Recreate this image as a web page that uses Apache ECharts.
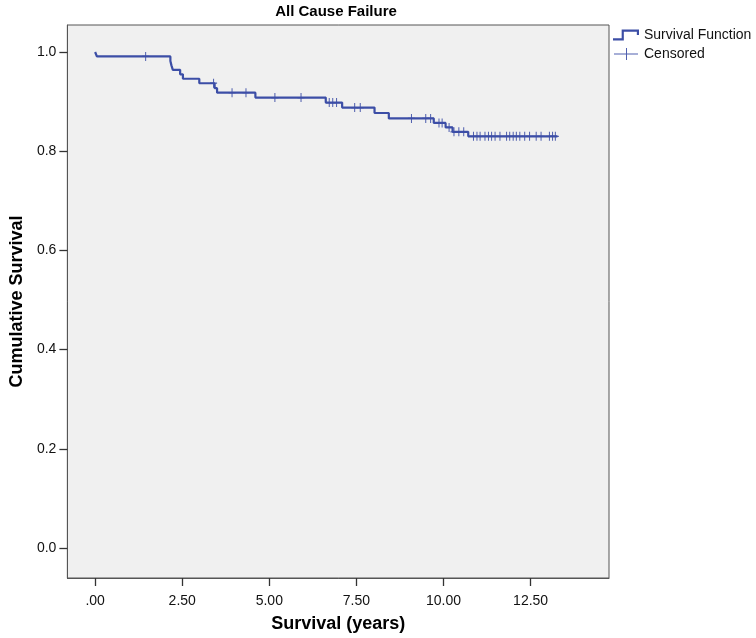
<!DOCTYPE html>
<html>
<head>
<meta charset="utf-8">
<script src="https://cdn.jsdelivr.net/npm/echarts@6/dist/echarts.min.js"></script>
<style>
html,body{margin:0;padding:0;background:#fff;}
#chart{width:756px;height:638px;}
</style>
</head>
<body>
<div id="chart"></div>
<script>
// Kaplan-Meier step points: time (years) and cumulative survival after that time
const eventTimes = [0, 0.05, 2.16, 2.19, 2.23, 2.44, 2.52, 2.99, 3.43, 3.50, 4.60, 6.62, 7.09, 8.02, 8.43, 9.72, 10.06, 10.26, 10.71, 13.27];
const survival   = [1.000, 0.991, 0.982, 0.973, 0.964, 0.955, 0.946, 0.937, 0.927, 0.918, 0.908, 0.898, 0.888, 0.877, 0.866, 0.857, 0.848, 0.839, 0.830, 0.830];

// Censored observations: time and survival level at that time
const censorTimes = [1.45, 3.40, 3.93, 4.33, 5.16, 5.91, 6.72, 6.82, 6.93, 7.45, 7.61,
  9.08, 9.49, 9.63, 9.87, 9.96, 10.16, 10.30, 10.44, 10.58,
  10.86, 10.96, 11.05, 11.19, 11.29, 11.38, 11.48, 11.62, 11.81, 11.90, 12.00, 12.09, 12.19, 12.33, 12.47, 12.66, 12.80, 13.04, 13.13, 13.21];
const censorSurv = [0.991, 0.937, 0.918, 0.918, 0.908, 0.908, 0.898, 0.898, 0.898, 0.888, 0.888,
  0.866, 0.866, 0.866, 0.857, 0.857, 0.848, 0.839, 0.839, 0.839,
  0.830, 0.830, 0.830, 0.830, 0.830, 0.830, 0.830, 0.830, 0.830, 0.830, 0.830, 0.830, 0.830, 0.830, 0.830, 0.830, 0.830, 0.830, 0.830, 0.830];

const xTicks = [0, 2.5, 5, 7.5, 10, 12.5];
const yTicks = [0, 0.2, 0.4, 0.6, 0.8, 1.0];
const xTickLabels = ['.00', '2.50', '5.00', '7.50', '10.00', '12.50'];
const yTickLabels = ['0.0', '0.2', '0.4', '0.6', '0.8', '1.0'];

const FONT = '"Liberation Sans", Arial, sans-serif';
const BLUE = '#3c4ea6';

const chart = echarts.init(document.getElementById('chart'), null, {renderer: 'canvas'});
const stepData = eventTimes.map((t, i) => [t, survival[i]]);
const censData = censorTimes.map((t, i) => [t, censorSurv[i]]);

chart.setOption({
  animation: false,
  backgroundColor: '#ffffff',
  textStyle: {fontFamily: FONT},
  title: {
    text: 'All Cause Failure',
    left: 336, top: 4, padding: 0,
    textAlign: 'center',
    textStyle: {fontFamily: FONT, fontSize: 15, fontWeight: 'bold', color: '#000'}
  },
  legend: {
    orient: 'vertical',
    left: 613, top: 28,
    itemWidth: 26, itemHeight: 12, itemGap: 5,
    padding: 0,
    textStyle: {fontFamily: FONT, fontSize: 14, color: '#111'},
    data: [
      {name: 'Survival Function', icon: 'path://M0,9 H8 V1 H24 V6 H22 V3 H10 V11 H0 Z'},
      {name: 'Censored', icon: 'path://M0,5.5 H12 V0 H13 V5.5 H24 V6.5 H13 V12 H12 V6.5 H0 Z'}
    ]
  },
  grid: {
    left: 63, right: 147, top: 25, bottom: 59,
    show: true, backgroundColor: '#f0f0f0', borderColor: '#555', borderWidth: 1
  },
  xAxis: {
    type: 'value',
    min: -0.797, max: 14.75,
    name: 'Survival (years)',
    nameLocation: 'middle', nameGap: 37,
    nameTextStyle: {fontFamily: FONT, fontSize: 18, fontWeight: 'bold', color: '#000'},
    axisLine: {show: true, onZero: false, lineStyle: {color: '#555', width: 1}},
    axisTick: {show: true, inside: false, length: 8, customValues: xTicks, lineStyle: {color: '#333', width: 1.3}},
    axisLabel: {
      margin: 16, fontSize: 14, color: '#111', fontFamily: FONT,
      customValues: xTicks,
      formatter: v => xTickLabels[xTicks.findIndex(t => Math.abs(t - v) < 1e-6)]
    },
    splitLine: {show: false}
  },
  yAxis: {
    type: 'value',
    min: -0.0605, max: 1.0544,
    name: 'Cumulative Survival',
    nameLocation: 'middle', nameGap: 41,
    nameTextStyle: {fontFamily: FONT, fontSize: 18, fontWeight: 'bold', color: '#000'},
    axisLine: {show: true, onZero: false, lineStyle: {color: '#555', width: 1}},
    axisTick: {show: true, inside: false, length: 8, customValues: yTicks, lineStyle: {color: '#333', width: 1.3}},
    axisLabel: {
      margin: 11, fontSize: 14, color: '#111', fontFamily: FONT,
      customValues: yTicks,
      formatter: v => yTickLabels[yTicks.findIndex(t => Math.abs(t - v) < 1e-6)]
    },
    splitLine: {show: false}
  },
  series: [
    {
      name: 'Survival Function',
      type: 'line',
      step: 'end',
      data: stepData,
      showSymbol: false,
      symbol: 'none',
      color: BLUE,
      lineStyle: {color: BLUE, width: 2.2},
      itemStyle: {color: BLUE},
      z: 2
    },
    {
      name: 'Censored',
      type: 'scatter',
      data: censData,
      symbol: 'path://M3,0 H4 V3 H7 V4 H4 V7 H3 V4 H0 V3 H3 Z',
      symbolSize: [7, 9],
      color: BLUE,
      itemStyle: {color: BLUE, opacity: 0.9},
      z: 3
    }
  ]
});
</script>
</body>
</html>
